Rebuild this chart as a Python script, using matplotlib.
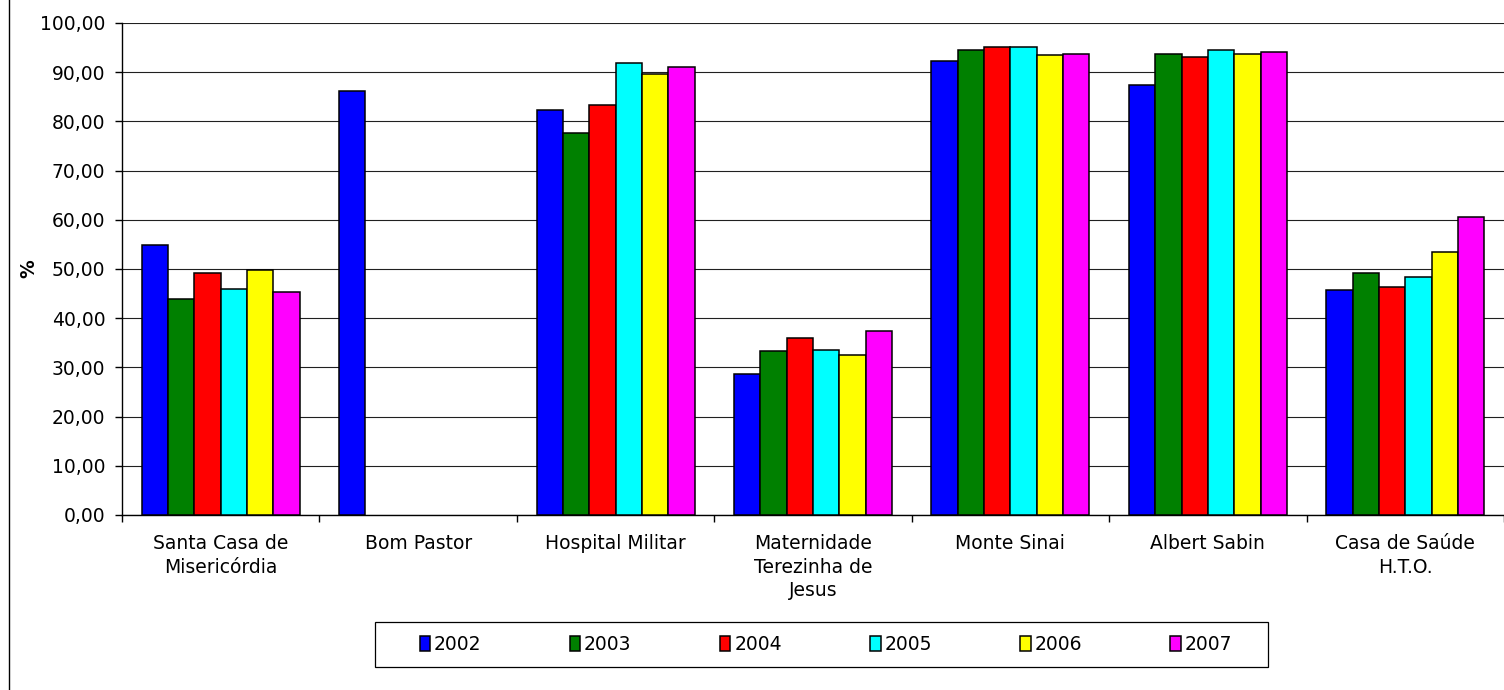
import numpy as np
import matplotlib
matplotlib.use("Agg")
import matplotlib.pyplot as plt
from matplotlib.lines import Line2D
from matplotlib.patches import Rectangle
from matplotlib.ticker import FuncFormatter, FixedLocator

categories = ["Santa Casa de\nMisericórdia", "Bom Pastor", "Hospital Militar",
              "Maternidade\nTerezinha de\nJesus", "Monte Sinai", "Albert Sabin",
              "Casa de Saúde\nH.T.O."]
years = ["2002", "2003", "2004", "2005", "2006", "2007"]
nan = np.nan
v2002 = [54.9, 86.2, 82.3, 28.6, 92.3, 87.3, 45.7]
v2003 = [44.0, nan, 77.6, 33.3, 94.6, 93.8, 49.1]
v2004 = [49.1, nan, 83.4, 35.9, 95.1, 93.1, 46.3]
v2005 = [45.9, nan, 91.9, 33.6, 95.1, 94.6, 48.3]
v2006 = [49.8, nan, 89.7, 32.5, 93.5, 93.8, 53.4]
v2007 = [45.3, nan, 91.1, 37.5, 93.8, 94.2, 60.6]
series = [v2002, v2003, v2004, v2005, v2006, v2007]
colors = ["#0000FF", "#008000", "#FF0000", "#00FFFF", "#FFFF00", "#FF00FF"]

plt.rcParams['font.family'] = ['DejaVu Sans']
FS = 13.5

fig = plt.figure(figsize=(15.04, 6.9), dpi=100)
ax = fig.add_axes([122/1504, 1-515/690, 1-122/1504, (515-23)/690])

n = len(categories)
x = np.arange(n)
bw = 0.8 / len(series)
for i, (vals, c, yr) in enumerate(zip(series, colors, years)):
    ax.bar(x - 0.4 + bw*(i+0.5), vals, width=bw, color=c, edgecolor='black',
           linewidth=1.1, label=yr, zorder=3)

ax.set_xlim(-0.5, n-0.5)
ax.set_ylim(0, 100)
ax.set_yticks(np.arange(0, 101, 10))
ax.yaxis.set_major_formatter(FuncFormatter(lambda v, p: f"{v:.2f}".replace('.', ',')))
ax.yaxis.grid(True, color='#202020', linewidth=0.8, zorder=0)
ax.set_axisbelow(True)

ax.xaxis.set_major_locator(FixedLocator(np.arange(-0.5, n, 1.0)))
ax.xaxis.set_major_formatter(FuncFormatter(lambda v, p: ""))
ax.xaxis.set_minor_locator(FixedLocator(x))
ax.set_xticklabels(categories, minor=True, fontsize=FS, linespacing=1.3)
ax.tick_params(axis='x', which='minor', length=0, pad=14)
ax.tick_params(axis='x', which='major', length=5, width=1, direction='out')
ax.tick_params(axis='y', length=5, width=1, direction='out', pad=7, labelsize=FS)

for s in ['top', 'right']:
    ax.spines[s].set_visible(False)
ax.spines['left'].set_linewidth(1.0)
ax.spines['bottom'].set_linewidth(1.0)

ax.set_ylabel('%', fontsize=FS, fontweight='bold')
ax.yaxis.set_label_coords((38-122)/1382, 0.5)

# legend
lx0, lx1, ly0, ly1 = 375, 1268, 622, 667
fig.add_artist(Rectangle((lx0/1504, 1-ly1/690), (lx1-lx0)/1504, (ly1-ly0)/690,
                         transform=fig.transFigure, facecolor='white',
                         edgecolor='black', linewidth=0.9))
leg = fig.legend(loc='center', ncol=6, mode='expand', frameon=False,
                 bbox_to_anchor=(420/1504, 1-ly1/690, (1232-420)/1504, (ly1-ly0)/690),
                 fontsize=FS, handlelength=0.55, handleheight=0.8,
                 handletextpad=0.2, borderaxespad=0, borderpad=0)

fig.add_artist(Line2D([9/1504, 9/1504], [0, 1], transform=fig.transFigure,
                      color='black', linewidth=1.0))

fig.savefig('out.png', dpi=100)
